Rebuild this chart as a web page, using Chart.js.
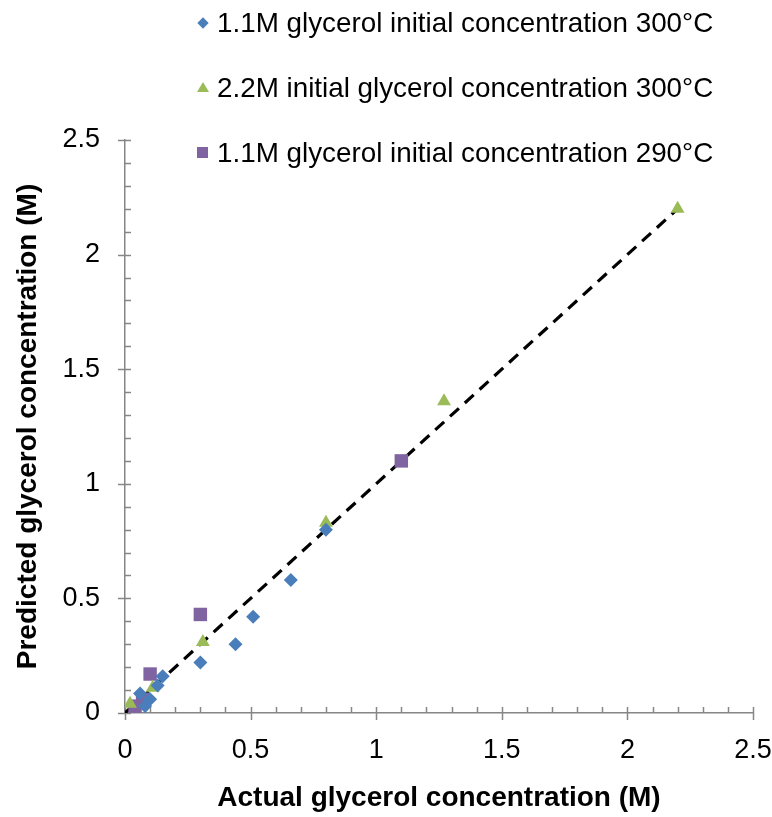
<!DOCTYPE HTML>
<html>
<head>
<meta charset="utf-8">
<title>Predicted vs actual glycerol concentration</title>
<script src="https://cdn.jsdelivr.net/npm/chart.js@4.4.0/dist/chart.umd.min.js"></script>
<style>
  body { margin: 0; background: #fff; }
  #wrap { position: relative; width: 772px; height: 817px; }
  #legend { position: absolute; left: 0; top: 0; width: 772px;
            font-family: "Liberation Sans", Arial, sans-serif; font-size: 27.8px; color: #000; }
  .item { position: absolute; left: 0; height: 28px; line-height: 28px; white-space: nowrap; }
  .item span.txt { position: absolute; left: 217px; top: 0; }
  .mk { position: absolute; }
</style>
</head>
<body>
<div id="wrap">
  <canvas id="myChart" width="772" height="817"></canvas>
  <div id="legend"></div>
</div>

<script>
  // series names (legend)
  const seriesNames = [
    '1.1M glycerol initial concentration 300°C',
    '2.2M initial glycerol concentration 300°C',
    '1.1M glycerol initial concentration 290°C'
  ];
  const seriesColors = ['#4a7ebb', '#9bbb59', '#8064a2'];

  // 1.1M, 300°C
  const actual1 = [0.30, 0.44, 0.51, 0.66, 0.80, 0.15, 0.13, 0.06, 0.10, 0.08];
  const predicted1 = [0.22, 0.30, 0.42, 0.58, 0.80, 0.16, 0.12, 0.085, 0.06, 0.03];
  // 2.2M, 300°C
  const actual2 = [2.20, 1.27, 0.80, 0.31, 0.11, 0.02];
  const predicted2 = [2.20, 1.36, 0.83, 0.31, 0.11, 0.04];
  // 1.1M, 290°C
  const actual3 = [1.10, 0.30, 0.10, 0.07, 0.04];
  const predicted3 = [1.10, 0.43, 0.17, 0.06, 0.03];
  // parity line
  const lineX = [0, 2.2];
  const lineY = [0, 2.2];

  const axisMin = 0, axisMax = 2.5, minorStep = 0.1, majorStep = 0.5;

  function pts(xs, ys) {
    return xs.map((x, i) => ({ x: x, y: ys[i] }));
  }

  function isMajor(v) {
    return Math.abs(v / majorStep - Math.round(v / majorStep)) < 1e-6;
  }

  function tickLabel(v) {
    return isMajor(v) ? String(Number(v.toFixed(1))) : '';
  }

  // legend built as html so it can sit over the top of the plot like in excel
  const legendPos = [23, 88, 153];
  const legend = document.getElementById('legend');
  seriesNames.forEach((name, i) => {
    var item = document.createElement('div');
    item.className = 'item';
    item.style.top = (legendPos[i] - 14) + 'px';
    var mk = document.createElement('div');
    mk.className = 'mk';
    if (i == 0) {
      mk.style.cssText = 'left:199px;top:10px;width:8px;height:8px;background:' + seriesColors[0] + ';transform:rotate(45deg);';
    } else if (i == 1) {
      mk.style.cssText = 'left:197px;top:8px;width:0;height:0;border-left:6px solid transparent;border-right:6px solid transparent;border-bottom:10px solid ' + seriesColors[1] + ';';
    } else {
      mk.style.cssText = 'left:197px;top:8px;width:11px;height:11px;background:' + seriesColors[2] + ';';
    }
    item.appendChild(mk);
    var t = document.createElement('span');
    t.className = 'txt';
    t.textContent = name;
    item.appendChild(t);
    legend.appendChild(item);
  });

  // excel style tick marks: minor ones inside, major ones crossing the axis
  const tickMarks = {
    id: 'tickMarks',
    beforeDatasetsDraw(chart) {
      const ctx = chart.ctx;
      const area = chart.chartArea;
      const xs = chart.scales.x, ys = chart.scales.y;
      ctx.save();
      ctx.strokeStyle = '#868686';
      ctx.lineWidth = 1.5;
      ctx.beginPath();
      xs.ticks.forEach(t => {
        var px = Math.round(xs.getPixelForValue(t.value)) + 0.5;
        ctx.moveTo(px, area.bottom - 6);
        ctx.lineTo(px, area.bottom + (isMajor(t.value) ? 7 : 0));
      });
      ys.ticks.forEach(t => {
        var py = Math.round(ys.getPixelForValue(t.value)) + 0.5;
        ctx.moveTo(area.left + 6, py);
        ctx.lineTo(area.left - (isMajor(t.value) ? 7 : 0), py);
      });
      ctx.stroke();
      ctx.restore();
    }
  };

  const fontFamily = '"Liberation Sans", Arial, sans-serif';

  const data = {
    datasets: [{
      label: seriesNames[0],
      data: pts(actual1, predicted1),
      pointStyle: 'rectRot',
      pointRadius: 7,
      backgroundColor: seriesColors[0],
      borderColor: seriesColors[0],
      borderWidth: 0
    }, {
      label: seriesNames[1],
      data: pts(actual2, predicted2),
      pointStyle: 'triangle',
      pointRadius: 8,
      backgroundColor: seriesColors[1],
      borderColor: seriesColors[1],
      borderWidth: 0
    }, {
      label: seriesNames[2],
      data: pts(actual3, predicted3),
      pointStyle: 'rect',
      pointRadius: 9.5,
      backgroundColor: seriesColors[2],
      borderColor: seriesColors[2],
      borderWidth: 0
    }, {
      label: 'parity',
      data: pts(lineX, lineY),
      showLine: true,
      pointRadius: 0,
      borderColor: '#000',
      borderWidth: 3.2,
      borderDash: [12, 8],
      fill: false
    }]
  };

  const config = {
    type: 'scatter',
    data: data,
    options: {
      responsive: false,
      animation: false,
      events: [],
      layout: { padding: { top: 140, right: 0, left: 0, bottom: 0 } },
      plugins: {
        legend: { display: false },
        tooltip: { enabled: false }
      },
      scales: {
        x: {
          type: 'linear',
          min: axisMin,
          max: axisMax,
          afterFit: s => { s.height = 104; s.paddingRight = 19; s.paddingLeft = 0; },
          border: { color: '#868686', width: 1.5 },
          grid: { drawOnChartArea: false, drawTicks: false },
          ticks: {
            stepSize: minorStep,
            autoSkip: false,
            maxRotation: 0,
            padding: 21,
            color: '#000',
            font: { family: fontFamily, size: 27 },
            callback: v => tickLabel(v)
          },
          title: {
            display: true,
            text: 'Actual glycerol concentration (M)',
            color: '#000',
            font: { family: fontFamily, size: 28, weight: 'bold' },
            padding: { top: 0, bottom: 2 }
          }
        },
        y: {
          type: 'linear',
          min: axisMin,
          max: axisMax,
          afterFit: s => { s.width = 125; },
          border: { color: '#868686', width: 1.5 },
          grid: { drawOnChartArea: false, drawTicks: false },
          ticks: {
            stepSize: minorStep,
            autoSkip: false,
            padding: 25,
            color: '#000',
            font: { family: fontFamily, size: 27 },
            callback: v => tickLabel(v)
          },
          title: {
            display: true,
            text: 'Predicted glycerol concentration (M)',
            color: '#000',
            font: { family: fontFamily, size: 28, weight: 'bold' },
            padding: { top: 11, bottom: 0 }
          }
        }
      }
    },
    plugins: [tickMarks]
  };

  const myChart = new Chart(document.getElementById('myChart'), config);
</script>
</body>
</html>
